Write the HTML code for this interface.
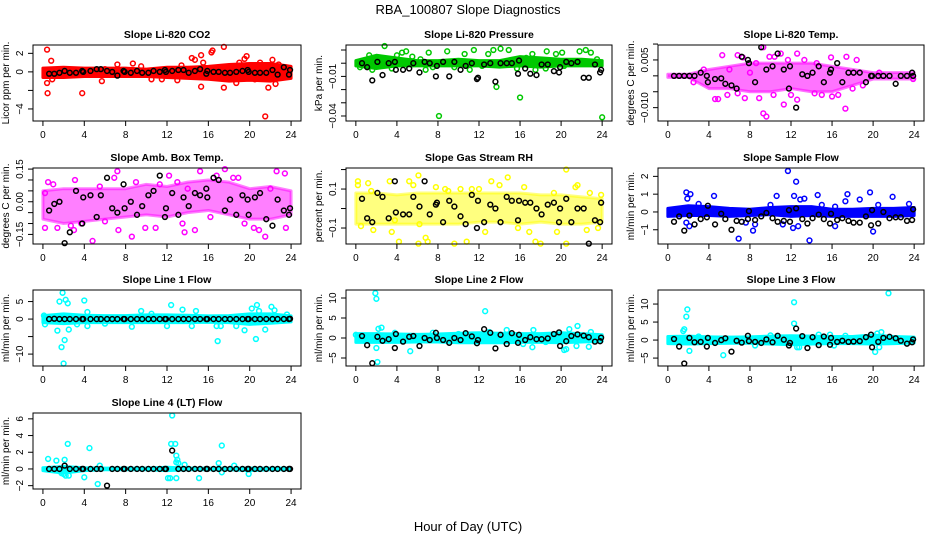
<!DOCTYPE html>
<html><head><meta charset="utf-8"><style>
html,body{margin:0;padding:0;background:#fff;}
svg{display:block;font-family:"Liberation Sans",sans-serif;}
</style></head><body>
<svg id="chart" width="936" height="540" viewBox="0 0 936 540" xmlns="http://www.w3.org/2000/svg">
<text x="468" y="14" text-anchor="middle" font-size="13">RBA_100807  Slope Diagnostics</text>
<text x="468" y="531" text-anchor="middle" font-size="13">Hour of Day (UTC)</text>
</svg>
<script>
const xTicks=[0,4,8,12,16,20,24];
const bandX=[0,2,4,6,8,10,12,14,16,18,20,22,24];
const blackX=[0.6,1.1,1.6,2.1,2.6,3.2,3.8,3.9,4.6,5.2,5.6,6.2,6.7,7.2,7.8,7.9,8.5,9.1,9.6,10.2,10.7,11.3,11.8,11.9,12.5,13.1,13.6,14.1,14.7,15.2,15.8,15.9,16.5,17.0,17.6,18.1,18.7,19.3,19.8,19.9,20.5,21.0,21.6,22.2,22.7,23.3,23.8,23.9];

const titles=["Slope Li-820 CO2","Slope Li-820 Pressure","Slope Li-820 Temp.","Slope Amb. Box Temp.","Slope Gas Stream RH","Slope Sample Flow","Slope Line 1 Flow","Slope Line 2 Flow","Slope Line 3 Flow","Slope Line 4 (LT) Flow"];
const yLabels=["Licor ppm per min.","kPa per min.","degrees C per min.","degrees C per min.","percent per min.","ml/min per min.","ml/min per min.","ml/min per min.","ml/min per min.","ml/min per min."];
const colors=["#ff0000","#00c800","#ff00ff","#ff00ff","#ffff00","#0000ff","#00ffff","#00ffff","#00ffff","#00ffff"];
const yTop=[2.9,0.0138,0.0097,0.155,0.208,2.47,8.3,12,13.9,6.7];
const yBottom=[-5.3,-0.0438,-0.0142,-0.194,-0.182,-1.8,-13.4,-7,-7.2,-2.4];
const yTicks=[[2,0,-2,-4],[0.01,0,-0.01,-0.02,-0.03,-0.04],[0.01,0.005,0,-0.005,-0.01],[0.15,0.1,0.05,0,-0.05,-0.1,-0.15],[0.2,0.1,0,-0.1],[2,1,0,-1],[5,0,-5,-10],[10,5,0,-5],[10,5,0,-5],[6,4,2,0,-2]];
const yTickLabels=[["2","0","","\u22124"],["","","\u22120.01","","","\u22120.04"],["","0.005","","","\u22120.010"],["0.15","","","0.00","","","\u22120.15"],["","0.1","","\u22120.1"],["2","1","0","\u22121"],["5","0","","\u221210"],["10","5","0","\u22125"],["10","5","0","\u22125"],["6","4","2","0","\u22122"]];

const bandLo=[[-0.6,-0.6,-0.5,-0.5,-0.5,-0.5,-0.6,-0.7,-0.8,-1.0,-0.9,-1.0,-0.7],[-0.002,-0.004,-0.002,-0.002,-0.002,-0.002,-0.002,-0.003,-0.002,-0.003,-0.002,-0.002,-0.002],[-0.0005,-0.0005,-0.004,-0.004,-0.005,-0.005,-0.004,-0.005,-0.005,-0.003,-0.001,-0.001,-0.001],[-0.08,-0.1,-0.09,-0.08,-0.07,-0.06,-0.07,-0.05,-0.04,-0.06,-0.08,-0.08,-0.06],[-0.08,-0.08,-0.08,-0.08,-0.08,-0.08,-0.07,-0.07,-0.08,-0.07,-0.08,-0.08,-0.07],[-0.25,-0.2,-0.2,-0.25,-0.2,-0.15,-0.25,-0.2,-0.25,-0.25,-0.25,-0.25,-0.2],[-1,-1.3,-1,-1,-1,-1,-1,-1,-0.9,-1,-1.5,-1.2,-0.8],[-1.1,-1.1,-1.1,-1.0,-1.0,-1.2,-1.2,-1.2,-1.1,-1.1,-1.2,-1.0,-0.8],[-1.0,-1.1,-1.0,-0.9,-0.9,-1.1,-1.3,-1.1,-1.0,-1.0,-1.1,-1.0,-0.8],[-0.2,-0.5,-0.2,-0.1,-0.1,-0.1,-0.2,-0.1,-0.1,-0.1,-0.2,-0.1,-0.1]];
const bandHi=[[0.4,0.5,0.4,0.4,0.4,0.3,0.5,0.5,0.6,0.8,0.9,0.9,0.6],[0.002,0.006,0.004,0.002,0.002,0.003,0.002,0.002,0.005,0.004,0.003,0.003,0.002],[0.0005,0.0005,0.002,0.003,0.004,0.004,0.004,0.004,0.003,0.002,0.001,0.001,0.001],[0.05,0.06,0.06,0.06,0.06,0.08,0.07,0.09,0.1,0.09,0.06,0.07,0.05],[0.08,0.08,0.07,0.08,0.08,0.08,0.08,0.08,0.08,0.07,0.07,0.06,0.05],[0.2,0.35,0.3,0.2,0.15,0.25,0.3,0.3,0.15,0.15,0.2,0.2,0.25],[1,1.5,1.1,1,1,1.2,1.2,1.1,0.9,1,1.5,1.5,0.9],[1.1,1.1,1.0,0.9,1.0,1.2,1.3,1.2,1.1,1.1,1.3,1.1,0.8],[1.0,1.1,0.9,0.8,0.9,1.1,1.2,1.1,1.0,1.0,1.4,1.0,0.8],[0.15,0.3,0.15,0.1,0.1,0.1,0.2,0.1,0.1,0.1,0.1,0.1,0.1]];
const bandOpacity=[1,1,0.55,0.5,0.5,1,1,1,1,1];

const outX=[
[0.4,0.45,0.4,0.8,0.9,3.8,5.7,7.2,8.7,10.5,11.5,13.4,14.4,14.7,15.3,15.3,15.5,16.3,16.4,17.5,17.5,18.7,19,19.5,19.7,21,21.5,21.8,22.2,22.5,22.8,23.5,20.5,13,9.5,6],
[0.4,1,1.3,1.6,2,2.8,3.5,4,4.5,4.9,5.5,6.3,6.8,7.1,7.5,8.1,8.9,9.6,10.6,11.1,11.5,12.3,12.9,13.4,13.7,14.1,14.9,15.7,16,16.6,17.2,17.5,18.6,18.5,19.5,20.1,20.3,21.8,22.4,22.9,24,23.5],
[5.3,6.8,7.3,8.6,9.3,9.9,10.4,11,12.6,13.3,15,15.9,17.4,18.4,4.6,4.9,5.8,6.8,7.5,8.9,9.3,9.6,10.3,11.3,12.6,14.3,16,17.3,16.6,19,20.6,23.9,3.5,8,14.5,11.7,6,12,18,2.5],
[0.2,0.2,0.5,1.4,2.7,3.1,3.7,4.8,6,6.9,7.2,7.3,8.6,9.9,10.9,11.3,12.2,13.5,13.7,14.7,15.2,16.2,17.6,18.4,18.9,20.4,20.9,21.5,22.6,23.4,23.5,1,5.5,9,13,19.5,22,16.8,14,3],
[0.2,0.2,0.5,1.2,1.5,1.7,3.3,3.8,4.2,5.2,5.6,6.1,6.1,6.2,6.8,7,7.8,8.7,9.6,10.2,10.8,11.3,12.6,13.2,14,14.8,15.8,16.4,17.5,18,19.3,19.6,20.5,20.5,21.4,21.6,22.5,23.6,23.9,3.5,9,12,16.9,22.8],
[1.8,2.2,1.9,1.8,2.1,4.5,6.9,7.6,8.3,8.5,10.6,11.2,11.7,12.3,12.5,12.2,12.7,12.9,13.3,13.8,14.6,16.3,17.3,17.5,18.7,19.7,20,21.9,23.5,10,15,3,20.5,16.3],
[0.1,0.2,1.4,1.6,1.8,1.9,2,2.1,2.2,2.4,2.5,3.3,4,4.3,4.3,8.6,9.5,12,12.4,13.5,14.4,14.8,16.8,16.9,17.2,18.7,19.5,20.2,20.6,20.7,20.9,21.5,22.1,22.4,23.6,6,10.5],
[1.9,2,2,2.1,2.2,2.5,5.3,12.6,14.7,16.3,17.2,17.3,20.3,20.5,20.8,21.5,21.6,22.7,22.9,0,8.8,10,3.8,13,18.5,7.5],
[1.5,1.6,1.8,1.9,2.1,5.4,12.3,12.3,12.6,12.8,14.7,16.2,17.3,20.2,20.4,20.6,20.8,21.5,23.8,8.5,3,10,15.8],
[0.5,1.3,2.1,2.4,2.2,2.5,4,4.5,5.3,5.5,12.1,12.3,12.4,12.5,12.8,12.9,12.9,13,12.9,13.1,13.7,15.1,17,17.3,17.3,18.5,19.9,2,1.8]];
const outY=[
[2.4,-2.3,-1.2,1.2,-0.8,-2.3,-1,0.8,0.9,-0.8,-0.8,0.7,1.5,1.3,1.8,-1.6,1,2.1,2.3,2.7,-1.7,-1.2,1,1.4,1.7,1,-4.8,-1.7,1.3,-1.3,0.8,0.5,-0.8,-0.9,0.6,0.3],
[-0.003,-0.002,0.006,-0.005,0.004,0.013,-0.004,0.006,0.008,0.009,0.005,0.003,-0.005,0.008,-0.003,-0.040,0.009,-0.003,0.007,-0.005,0.010,-0.002,0.007,0.010,-0.018,0.011,0.010,-0.004,-0.026,0.004,0.007,-0.005,0.009,-0.004,0.007,0.008,-0.002,0.009,0.010,0.008,-0.041,0.003],
[0.0065,0.0065,0.0058,0.004,0.009,0.006,0.006,0.007,0.007,0.005,-0.006,0.0058,0.006,0.005,-0.0073,-0.0073,-0.006,-0.0055,-0.007,-0.007,-0.0118,-0.0128,-0.006,-0.009,-0.0075,-0.0055,-0.0065,-0.0103,-0.006,-0.003,0.001,-0.001,0.002,0.001,0.004,0.005,0.002,-0.006,-0.004,-0.002],
[0.04,-0.12,0.09,-0.12,-0.11,0.1,-0.1,-0.18,-0.09,0.11,0.14,-0.13,-0.16,-0.12,-0.12,0.08,0.12,-0.1,-0.14,-0.13,0.14,-0.07,0.15,0.11,0.11,-0.12,-0.13,-0.16,0.14,0.13,-0.12,0.08,0.07,0.09,0.09,-0.1,0.06,0.12,0.06,-0.13],
[0.12,0.14,-0.09,0.13,0.09,-0.11,0.14,-0.06,-0.17,0.14,0.12,0.17,-0.18,-0.08,-0.15,-0.17,0.11,0.1,-0.18,0.1,-0.17,0.1,-0.12,0.14,0.12,0.16,-0.1,0.11,-0.17,-0.18,0.08,-0.12,0.2,-0.18,0.11,0.12,-0.11,-0.1,0.07,-0.12,0.09,0.1,-0.12,0.08],
[1.1,1,0.75,-0.6,-0.8,0.9,-1.5,-0.6,-1.05,-0.7,0.9,-0.7,2.3,0.9,1.7,-0.9,-0.8,0.7,0.75,-1.6,0.95,-0.8,0.6,1,0.7,1.1,-1.1,0.85,0.45,0.4,0.4,0.45,0.4,0.3],
[1,-1.5,-3.3,5,-8,7.5,-12.7,-6,5.5,4.5,-3,-1.5,5.3,2,-2,-2.2,2.3,-2,4,2.7,-2,2.3,-2,-6.3,-2,-2,-3.2,3,-5.7,4,2.3,-3,3.5,2.5,1.3,-1.3,1.5],
[11.2,9.8,-2.5,-6,2.3,2.6,-3.3,6.7,2,-1.5,-2.3,2,-3,-2.8,2.2,-2,3,-2.2,1.5,0.8,-0.5,1,1.3,1.5,-1,1.3],
[2.5,3,6.5,8.5,-3,-4.2,10.5,4.6,-2,-2,1.5,-1.5,1.2,-3.3,1.8,-2,2.2,13,-0.5,-1.5,1,1.3,1.5],
[1.2,1,1.1,3,-0.8,-0.8,-1,2.5,-1.8,0.4,-1.1,-1.1,3,6.4,3,1.6,0.8,1.1,-1.1,0.7,0.5,-1.1,0.7,2.8,-0.4,0.4,-0.6,-0.6,-0.5]];
const blackY=[
[-0.2,-0.2,-0.1,0.1,-0.1,-0.1,0.1,0,0.1,0.3,0.3,0.1,0,-0.4,0.1,0,-0.1,0.1,-0.1,-0.1,0.1,0,0.2,0,0.1,0.2,0.2,-0.1,0.1,0.3,-0.2,0.1,0,0,-0.1,-0.1,0,0.1,0.2,0,-0.1,-0.1,-0.1,0.2,-0.3,0.5,-0.3,0.2],
[0,-0.003,-0.013,0.001,-0.009,0,0.001,-0.005,-0.005,-0.004,0,-0.007,0.001,0,-0.01,-0.002,0.001,-0.01,0.001,-0.005,-0.002,0,-0.012,-0.011,-0.001,0,-0.014,0,0,0,-0.008,0.002,-0.004,-0.008,-0.009,-0.001,-0.001,-0.006,-0.007,-0.003,0.001,0,0.001,-0.011,-0.011,-0.001,-0.007,-0.005],
[0,0,0,0,0,0.001,0,-0.002,-0.001,-0.0008,-0.0025,-0.003,-0.004,0.006,0.005,0.004,-0.002,0.009,0.002,0.003,0.007,0.002,-0.004,0.003,-0.01,0.0005,0,0.001,0.003,-0.002,0.001,0.002,0.004,-0.002,0.001,0.001,0.001,-0.002,0,0,0,0,0,-0.0025,0,0,0.001,0],
[-0.04,-0.01,0,-0.19,-0.14,0.05,-0.1,0.02,0.03,-0.07,0.03,0.11,-0.03,-0.05,0.08,-0.03,0,-0.06,-0.02,0.03,0.05,0.12,-0.07,-0.03,0.04,-0.06,0.02,-0.02,0.04,0.03,0.06,0.02,0.11,0.10,-0.04,0.01,-0.06,0.03,0.01,-0.06,0.02,0.04,-0.08,-0.11,0.01,-0.04,-0.06,-0.03],
[0.05,-0.05,-0.07,0.08,0.06,-0.05,0.14,-0.02,-0.03,-0.03,0.06,0.01,0.14,-0.03,0.02,0.03,-0.07,0.04,0.01,-0.04,-0.08,0.07,-0.1,0.04,-0.07,0.02,0,-0.07,0.06,0.04,-0.06,0.04,0.03,0.03,0,-0.03,0.02,0.03,-0.07,0,0.05,-0.07,0,0,-0.18,-0.06,-0.07,0.03],
[-0.55,-0.25,-1.05,-0.2,-0.7,-0.4,-0.3,0.35,-0.7,-0.1,-0.4,-1.0,-0.5,-0.55,-0.4,0.05,-0.45,-0.25,-0.05,-0.35,-0.55,-0.5,0.1,-0.55,0.2,-0.4,-0.65,-0.35,-0.15,-0.4,-0.65,-0.1,-0.45,-0.35,-0.5,-0.6,-0.6,-0.25,-0.75,0.1,-0.65,0,-0.35,-0.3,-0.3,-0.5,-0.45,0.15],
[0,0.1,0,0,0,0,0,0,0,0,0,0,0,0,0,0,0,0,0,0,0,0,0,0,0,0,0,0,0,0,0,0,0,0,0,0,0,0,0,0,0,0,0,0,0,0,0,0.1],
[0.5,-1.8,-6.3,0.3,-0.7,-0.3,-2.5,1,-0.9,0.3,0.5,-2,0,-0.5,1.3,0,-0.5,-1.2,0,-0.5,1.2,0.4,-1.3,-0.5,2.2,1.3,-2.6,0.8,-1.5,1.2,-1.2,0.8,-0.5,0.2,-0.3,-0.3,-0.1,1,1.4,-2,-0.8,0.5,0.9,0.6,0.2,-0.9,-0.8,0.1],
[0.3,-1.8,-6.5,0.6,-0.6,-0.5,-1.8,0.6,-0.8,0,0.5,-3.2,-0.2,-0.7,1.2,-0.3,-0.5,-0.8,0.2,-0.6,1.2,0.1,-1.5,-0.8,3.2,1.1,-2.2,0.8,-1.4,1,-1.3,0.6,-0.5,-0.2,-0.5,-0.4,-0.3,0.8,1.5,-2,-0.5,0.6,0.9,0.5,-0.2,-1,-0.6,0.2],
[0,0,0,0.4,0,0,0,0,0,0,0,-2.0,0,0,0,0,0,0,0,0,0,0,0,0,2.2,0,0,0,0,0,0,0,0,0,0,0,0,0,0,0,0,0,0,0,0,0,0,0]];

const NS="http://www.w3.org/2000/svg";
const svg=document.getElementById('chart');
const colL=[33,346,658], colR=[301,612,924];
const rowT=[45,168,290,413], rowB=[121,244,366,489];
function mk(tag,attrs,parent){const e=document.createElementNS(NS,tag);for(const k in attrs)e.setAttribute(k,attrs[k]);parent.appendChild(e);return e;}
function slug(s){return s.toLowerCase().replace(/[^a-z0-9]+/g,'-').replace(/^-|-$/g,'');}

titles.forEach((t,p)=>{
  const c=p%3, r=Math.floor(p/3);
  const L=colL[c], R=colR[c], T=rowT[r], B=rowB[r];
  const g=mk('g',{},svg);
  
  
  const xs=v=>L+(R-L)*(v+0.96)/25.92;
  const ys=v=>T+(B-T)*(yTop[p]-v)/(yTop[p]-yBottom[p]);
  let pts=[];
  bandX.forEach((x,i)=>pts.push(xs(x)+','+ys(bandHi[p][i])));
  for(let i=bandX.length-1;i>=0;i--)pts.push(xs(bandX[i])+','+ys(bandLo[p][i]));
  const band=mk('polygon',{points:pts.join(' '),fill:colors[p],stroke:colors[p],'stroke-width':3,'stroke-linejoin':'round','fill-opacity':bandOpacity[p],'stroke-opacity':bandOpacity[p]},g);
  
  
  outX[p].forEach((x,i)=>{
    const y=outY[p][i];
    const cEl=mk('circle',{cx:xs(x),cy:ys(y),r:2.4,fill:'none',stroke:colors[p],'stroke-width':1.5},g);
    
    
  });
  blackX.forEach((x,i)=>{
    const cEl=mk('circle',{cx:xs(x),cy:ys(blackY[p][i]),r:2.4,fill:'none',stroke:'#000','stroke-width':1.5},g);
    
    
  });
  const fr=mk('rect',{x:L,y:T,width:R-L,height:B-T,fill:'none',stroke:'#000','stroke-width':1},g);
  
  
  const ti=mk('text',{x:(L+R)/2,y:T-7,'text-anchor':'middle','font-size':10.5,'font-weight':'bold'},g);
  ti.textContent=t;
  
  
  xTicks.forEach(v=>{
    const X=xs(v);
    mk('line',{x1:X,x2:X,y1:B,y2:B+5,stroke:'#000'},g);
    const tx=mk('text',{x:X,y:B+17,'text-anchor':'middle','font-size':10},g);
    tx.textContent=v;
    
    
  });
  yTicks[p].forEach((v,i)=>{
    const Y=ys(v);
    mk('line',{x1:L-5,x2:L,y1:Y,y2:Y,stroke:'#000'},g);
    const lab=yTickLabels[p][i];
    if(lab){
      const tx=mk('text',{x:L-10,y:Y,'text-anchor':'middle','font-size':10,transform:`rotate(-90 ${L-10} ${Y})`},g);
      tx.textContent=lab;
      
      
    }
  });
  const cy=(T+B)/2, lx=L-24;
  const yl=mk('text',{x:lx,y:cy,'text-anchor':'middle','font-size':10,transform:`rotate(-90 ${lx} ${cy})`},g);
  yl.textContent=yLabels[p];
  
  
});
</script>
</body></html>
